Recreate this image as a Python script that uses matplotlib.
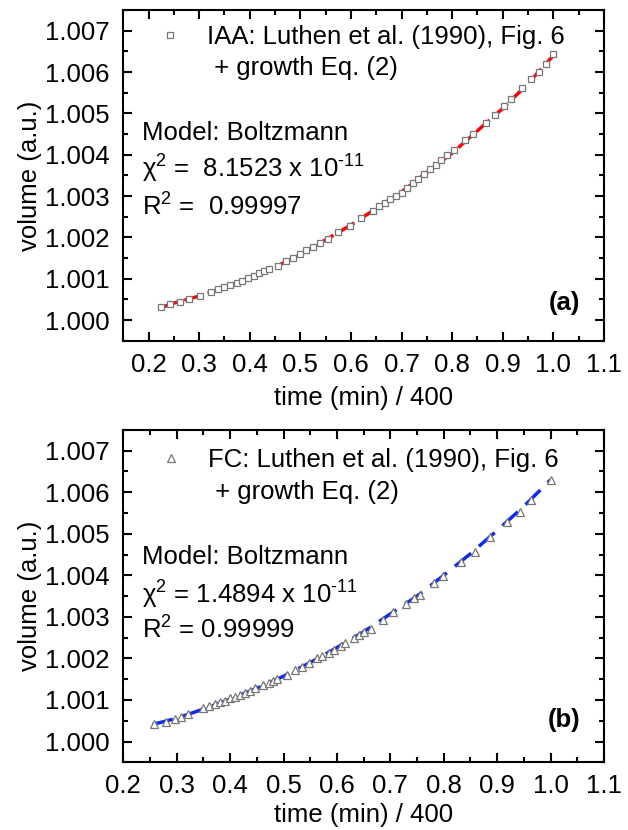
import matplotlib
matplotlib.use("Agg")
import matplotlib.pyplot as plt
from matplotlib.lines import Line2D
from matplotlib.ticker import MultipleLocator

plt.rcParams['font.family'] = ['Liberation Sans', 'DejaVu Sans']
plt.rcParams['mathtext.fontset'] = 'custom'
plt.rcParams['mathtext.rm'] = 'Liberation Sans'
plt.rcParams['mathtext.it'] = 'Liberation Sans:italic'

# IAA data (squares) and Boltzmann fit
iaa_t = [0.225, 0.243, 0.262, 0.280, 0.301, 0.323, 0.338, 0.350, 0.361, 0.375,
         0.385, 0.396, 0.408, 0.418, 0.429, 0.438, 0.455, 0.471, 0.485, 0.500,
         0.511, 0.525, 0.539, 0.555, 0.575, 0.598, 0.620, 0.643, 0.656, 0.668,
         0.678, 0.689, 0.701, 0.711, 0.723, 0.733, 0.745, 0.756, 0.768, 0.778,
         0.790, 0.804, 0.826, 0.841, 0.866, 0.885, 0.903, 0.916, 0.938, 0.956,
         0.972, 0.986, 1.000]
iaa_v = [1.00032, 1.00040, 1.00044, 1.00051, 1.00059, 1.00067, 1.00074, 1.00080,
         1.00085, 1.00090, 1.00095, 1.00101, 1.00107, 1.00113, 1.00118, 1.00123,
         1.00131, 1.00142, 1.00150, 1.00159, 1.00169, 1.00177, 1.00187, 1.00197,
         1.00212, 1.00227, 1.00246, 1.00263, 1.00275, 1.00284, 1.00292, 1.00300,
         1.00307, 1.00320, 1.00332, 1.00342, 1.00354, 1.00366, 1.00374, 1.00388,
         1.00399, 1.00412, 1.00435, 1.00451, 1.00477, 1.00497, 1.00517, 1.00534,
         1.00561, 1.00582, 1.00601, 1.00620, 1.00644]
iaa_fit_t = [0.225, 0.25, 0.30, 0.35, 0.40, 0.45, 0.50, 0.55, 0.60, 0.65, 0.70,
             0.75, 0.80, 0.85, 0.90, 0.95, 1.00]
iaa_fit_v = [1.00030, 1.00041, 1.00058, 1.00079, 1.00102, 1.00128, 1.00159,
             1.00194, 1.00230, 1.00270, 1.00310, 1.00357, 1.00404, 1.00458,
             1.00512, 1.00572, 1.00640]

# FC data (triangles) and Boltzmann fit
fc_t = [0.258, 0.280, 0.296, 0.308, 0.321, 0.349, 0.360, 0.371, 0.381, 0.390,
        0.400, 0.409, 0.419, 0.428, 0.437, 0.447, 0.462, 0.472, 0.481, 0.488,
        0.506, 0.522, 0.535, 0.547, 0.563, 0.572, 0.585, 0.594, 0.607, 0.616,
        0.632, 0.642, 0.651, 0.664, 0.686, 0.705, 0.730, 0.745, 0.755, 0.781,
        0.799, 0.832, 0.859, 0.887, 0.918, 0.943, 0.964, 1.000]
fc_v = [1.00043, 1.00048, 1.00055, 1.00060, 1.00066, 1.00080, 1.00085, 1.00090,
        1.00094, 1.00098, 1.00104, 1.00108, 1.00113, 1.00117, 1.00122, 1.00128,
        1.00137, 1.00141, 1.00146, 1.00150, 1.00161, 1.00172, 1.00180, 1.00188,
        1.00200, 1.00207, 1.00214, 1.00220, 1.00231, 1.00236, 1.00249, 1.00257,
        1.00263, 1.00272, 1.00293, 1.00311, 1.00331, 1.00345, 1.00353, 1.00381,
        1.00399, 1.00433, 1.00457, 1.00492, 1.00528, 1.00553, 1.00582, 1.00630]
fc_fit_t = [0.255, 0.30, 0.35, 0.40, 0.45, 0.50, 0.55, 0.60, 0.65, 0.70, 0.75,
            0.80, 0.85, 0.90, 0.95, 1.00]
fc_fit_v = [1.00041, 1.00056, 1.00078, 1.00102, 1.00128, 1.00157, 1.00190,
            1.00226, 1.00264, 1.00307, 1.00350, 1.00400, 1.00452, 1.00508,
            1.00566, 1.00630]

yticks = [1.000, 1.001, 1.002, 1.003, 1.004, 1.005, 1.006, 1.007]
xticks = [0.2, 0.3, 0.4, 0.5, 0.6, 0.7, 0.8, 0.9, 1.0, 1.1]

fig = plt.figure(figsize=(6.28, 8.30), dpi=100)
ax1 = fig.add_axes([0.1963, 0.5895, 0.7654, 0.3984])
ax2 = fig.add_axes([0.1963, 0.0816, 0.7654, 0.4004])

FS = 18.5


def style(ax, xmin, xpad):
    ax.set_xlim(xmin, 1.1)
    ax.set_ylim(0.9995, 1.0075)
    ax.set_xticks(xticks)
    ax.set_yticks(yticks)
    ax.set_xticklabels([f"{t:.1f}" for t in xticks])
    ax.set_yticklabels([f"{t:.3f}" for t in yticks])
    ax.xaxis.set_minor_locator(MultipleLocator(0.05))
    ax.yaxis.set_minor_locator(MultipleLocator(0.0005))
    ax.tick_params(which='both', direction='in', top=True, right=True,
                   width=1.5, labelsize=FS)
    ax.tick_params(which='major', length=6.5)
    ax.tick_params(which='minor', length=3.6)
    ax.tick_params(axis='x', pad=8.5)
    ax.tick_params(axis='y', pad=10)
    for s in ax.spines.values():
        s.set_linewidth(1.5)
    ax.set_xlabel('time (min) / 400', fontsize=FS, labelpad=xpad)
    ax.set_ylabel('volume (a.u.)', fontsize=FS, labelpad=2)


# panel (a)
ax1.plot(iaa_fit_t, iaa_fit_v, color='red', lw=2.5, dashes=(5, 2), zorder=2)
pts1, = ax1.plot(iaa_t, iaa_v, ls='none', marker='s', ms=4.8, mfc='white',
                 mec='#777777', mew=0.9, zorder=3)
style(ax1, 0.15, 7)
ax1.legend([pts1, Line2D([], [], ls='none')],
           ['IAA: Luthen et al. (1990), Fig. 6', ' + growth Eq. (2)'],
           loc='upper left', bbox_to_anchor=(0.070, 0.956), frameon=False,
           fontsize=FS, borderpad=0, borderaxespad=0, handlelength=1.0,
           handletextpad=0.95, labelspacing=0.3)
ax1.text(0.038, 0.628, 'Model: Boltzmann', transform=ax1.transAxes,
         fontsize=FS, va='center')
ax1.text(0.038, 0.520, r'χ$^{2}$ =  8.1523 x 10$^{\text{-}11}$',
         transform=ax1.transAxes, fontsize=FS, va='center')
ax1.text(0.038, 0.405, r'R$^{2}$ =  0.99997', transform=ax1.transAxes,
         fontsize=FS, va='center')
ax1.text(0.950, 0.114, '(a)', transform=ax1.transAxes, fontsize=FS,
         fontweight='bold', ha='right', va='center')

# panel (b)
ax2.plot(fc_fit_t, fc_fit_v, color='#0a2cf0', lw=2.5, dashes=(6, 3), zorder=2)
pts2, = ax2.plot(fc_t, fc_v, ls='none', marker='^', ms=5.6, mfc='white',
                 mec='#777777', mew=0.9, zorder=3)
style(ax2, 0.2, 3.5)
ax2.legend([pts2, Line2D([], [], ls='none')],
           ['FC: Luthen et al. (1990), Fig. 6', ' + growth Eq. (2)'],
           loc='upper left', bbox_to_anchor=(0.073, 0.945), frameon=False,
           fontsize=FS, borderpad=0, borderaxespad=0, handlelength=1.0,
           handletextpad=0.95, labelspacing=0.3)
ax2.text(0.038, 0.618, 'Model: Boltzmann', transform=ax2.transAxes,
         fontsize=FS, va='center')
ax2.text(0.038, 0.504, r'χ$^{2}$ = 1.4894 x 10$^{\text{-}11}$',
         transform=ax2.transAxes, fontsize=FS, va='center')
ax2.text(0.038, 0.399, r'R$^{2}$ = 0.99999', transform=ax2.transAxes,
         fontsize=FS, va='center')
ax2.text(0.950, 0.127, '(b)', transform=ax2.transAxes, fontsize=FS,
         fontweight='bold', ha='right', va='center')

fig.savefig('out.png', dpi=100, facecolor='white')
